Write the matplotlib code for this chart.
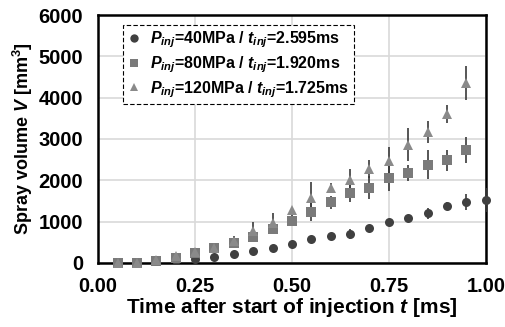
import matplotlib
matplotlib.use("Agg")
import matplotlib.pyplot as plt
from matplotlib.lines import Line2D

plt.rcParams['font.family'] = ['Liberation Sans', 'DejaVu Sans']
plt.rcParams['font.weight'] = 'bold'
plt.rcParams['mathtext.fontset'] = 'custom'
plt.rcParams['mathtext.it'] = 'Liberation Sans:italic:bold'
plt.rcParams['mathtext.rm'] = 'Liberation Sans:bold'
plt.rcParams['mathtext.bf'] = 'Liberation Sans:bold'

t40 = [0.05, 0.10, 0.15, 0.20, 0.25, 0.30, 0.35, 0.40, 0.45, 0.50,
       0.55, 0.60, 0.65, 0.70, 0.75, 0.80, 0.85, 0.90, 0.95, 1.00]
v40 = [0, 0, 40, 80, 100, 150, 210, 280, 355, 460,
       570, 650, 700, 850, 985, 1090, 1200, 1370, 1475, 1530]
e40 = [0, 0, 10, 10, 15, 20, 20, 20, 25, 30,
       40, 50, 110, 40, 50, 60, 140, 100, 205, 290]

t80 = [0.05, 0.10, 0.15, 0.20, 0.25, 0.30, 0.35, 0.40, 0.45, 0.50,
       0.55, 0.60, 0.65, 0.70, 0.75, 0.80, 0.85, 0.90, 0.95]
v80 = [0, 0, 55, 130, 240, 355, 490, 630, 815, 1025,
       1240, 1470, 1685, 1815, 2065, 2175, 2380, 2485, 2735]
e80 = [0, 0, 20, 30, 40, 60, 80, 110, 120, 140,
       230, 160, 220, 280, 320, 185, 345, 260, 320]

t120 = [0.05, 0.10, 0.15, 0.20, 0.25, 0.30, 0.35, 0.40, 0.45, 0.50,
        0.55, 0.60, 0.65, 0.70, 0.75, 0.80, 0.85, 0.90, 0.95]
v120 = [0, 0, 70, 160, 265, 370, 525, 765, 970, 1290,
        1565, 1820, 2000, 2275, 2460, 2865, 3170, 3605, 4355]
e120 = [0, 0, 20, 30, 40, 60, 120, 215, 230, 60,
        390, 120, 265, 220, 350, 395, 265, 220, 415]

labels = [r'$P_{inj}$=40MPa / $t_{inj}$=2.595ms',
          r'$P_{inj}$=80MPa / $t_{inj}$=1.920ms',
          r'$P_{inj}$=120MPa / $t_{inj}$=1.725ms']
colors = ['#404040', '#7a7a7a', '#8a8a8a']
markers = ['o', 's', '^']
msizes = [6.5, 6.5, 7]

fig = plt.figure(figsize=(5.06, 3.27), dpi=100)
ax = fig.add_axes([0.194, 0.196, 0.766, 0.758])

series = [(t40, v40, e40), (t80, v80, e80), (t120, v120, e120)]
for (tt, vv, ee), c, m, ms in zip(series, colors, markers, msizes):
    ax.errorbar(tt, vv, yerr=ee, fmt=m, color=c, ecolor='#3a3a3a',
                markersize=ms, markeredgewidth=0, capsize=3, elinewidth=1.2,
                capthick=1.2, clip_on=False, zorder=3)

ax.set_xlim(0, 1.0)
ax.set_ylim(0, 6000)
ax.set_xticks([0, 0.25, 0.5, 0.75, 1.0])
ax.set_xticklabels(['0.00', '0.25', '0.50', '0.75', '1.00'])
ax.set_yticks(range(0, 6001, 1000))
ax.tick_params(axis='both', length=0, labelsize=14.5)
ax.tick_params(axis='x', pad=10)
ax.tick_params(axis='y', pad=11)
for lab in ax.get_xticklabels() + ax.get_yticklabels():
    lab.set_fontweight('bold')
ax.grid(True, color='#d9d9d9', linewidth=1.2)
ax.set_axisbelow(True)
for s in ax.spines.values():
    s.set_linewidth(1.8)
    s.set_color('black')

ax.set_xlabel(r'Time after start of injection $t$ [ms]', fontsize=15,
              fontweight='bold', labelpad=0)
ax.set_ylabel(r'Spray volume $V$ [mm$^\mathregular{3}$]', fontsize=13,
              fontweight='bold', labelpad=2)

handles = [Line2D([], [], linestyle='none', marker=m, color=c, markersize=6,
                  markeredgewidth=0) for c, m in zip(colors, markers)]
leg = ax.legend(handles, labels, loc='upper left', bbox_to_anchor=(0.064, 0.96),
                fontsize=11.5, frameon=True, fancybox=False, handlelength=0.8,
                handletextpad=0.6, borderpad=0.3, labelspacing=0.25,
                borderaxespad=0)
fr = leg.get_frame()
fr.set_edgecolor('black')
fr.set_linestyle((0, (4, 2)))
fr.set_linewidth(0.8)
fr.set_facecolor('white')
fr.set_alpha(1)

fig.savefig('out.png', dpi=100)
